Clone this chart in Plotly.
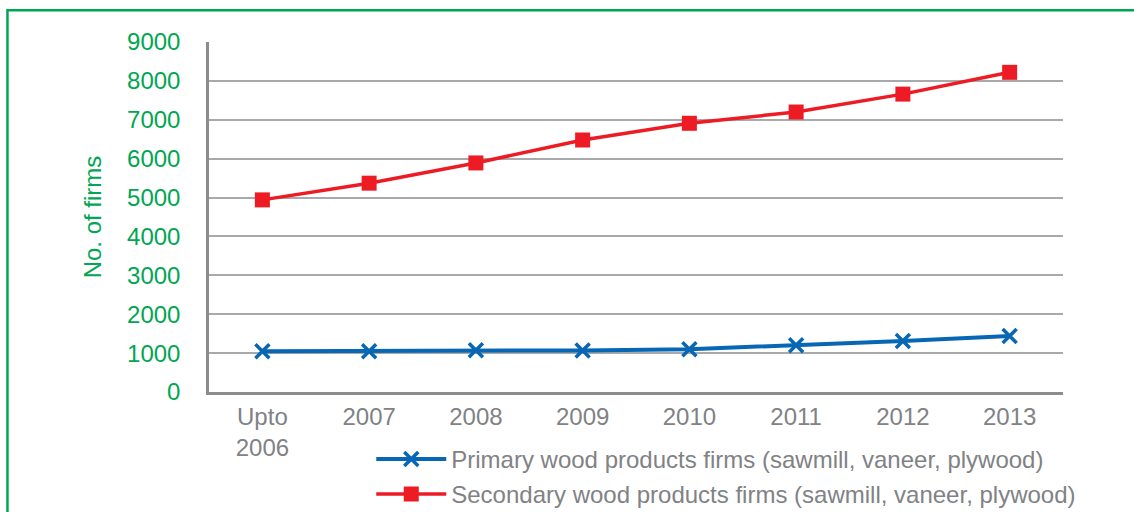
import plotly.graph_objects as go

categories = ["Upto<br>2006", "2007", "2008", "2009", "2010", "2011", "2012", "2013"]
primary = [1050, 1050, 1075, 1070, 1100, 1200, 1310, 1440]
secondary = [4940, 5370, 5890, 6480, 6910, 7200, 7660, 8220]
primary_name = "Primary wood products firms (sawmill, vaneer, plywood)"
secondary_name = "Secondary wood products firms (sawmill, vaneer, plywood)"
y_ticks = [0, 1000, 2000, 3000, 4000, 5000, 6000, 7000, 8000, 9000]

GREEN = "#00A651"
GRAY_TXT = "#808285"
BLUE = "#0767B4"
RED = "#ED1C24"
FONT = "Liberation Sans, Arial, sans-serif"
FS = 24

fig = go.Figure()
fig.add_trace(go.Scatter(
    x=categories, y=primary, name=primary_name, mode="lines+markers",
    line=dict(color=BLUE, width=4),
    marker=dict(symbol="x-thin-open", size=14, line=dict(color=BLUE, width=3.5), color=BLUE),
    legendgroup="a",
))
fig.add_trace(go.Scatter(
    x=categories, y=secondary, name=secondary_name, mode="lines+markers",
    line=dict(color=RED, width=3.5),
    marker=dict(symbol="square", size=15, color=RED),
    legendgroup="b",
))

fig.update_layout(
    width=1134, height=512,
    margin=dict(l=209, r=71, t=42, b=120, autoexpand=False),
    paper_bgcolor="white", plot_bgcolor="white",
    font=dict(family=FONT, size=FS, color=GRAY_TXT),
    showlegend=True,
    hovermode=False,
    legend=dict(
        x=0.19, y=-0.128, xanchor="left", yanchor="top",
        traceorder="grouped", tracegroupgap=1,
        font=dict(family=FONT, size=FS, color=GRAY_TXT),
        bgcolor="rgba(0,0,0,0)", itemwidth=70,
    ),
    xaxis=dict(
        type="category", range=[-0.5, 7.5],
        showgrid=False, showline=True, linecolor="#8C8C8C", linewidth=2.5,
        ticks="outside", ticklen=1, tickcolor="rgba(0,0,0,0)",
        tickfont=dict(family=FONT, size=FS, color=GRAY_TXT),
        zeroline=False, automargin=False,
    ),
    yaxis=dict(
        range=[0, 9000], tickvals=y_ticks,
        showgrid=True, gridcolor="#A7A9AC", gridwidth=1.5,
        showline=True, linecolor="#8C8C8C", linewidth=2.5,
        ticks="outside", ticklen=21, tickcolor="rgba(0,0,0,0)",
        tickfont=dict(family=FONT, size=FS, color=GREEN),
        title=dict(text="No. of firms", font=dict(family=FONT, size=FS, color=GREEN), standoff=19),
        zeroline=False, automargin=False,
    ),
)

# green frame around the figure
fig.add_shape(
    type="path", xref="paper", yref="paper",
    path="M -0.236,-0.5 L -0.236,1.091 L 1.2,1.091",
    line=dict(color=GREEN, width=2.5),
    layer="above",
)

fig.write_html(
    "out.html",
    config={"displayModeBar": False},
    post_script="document.body.style.margin='0';document.body.style.overflow='hidden';",
)
